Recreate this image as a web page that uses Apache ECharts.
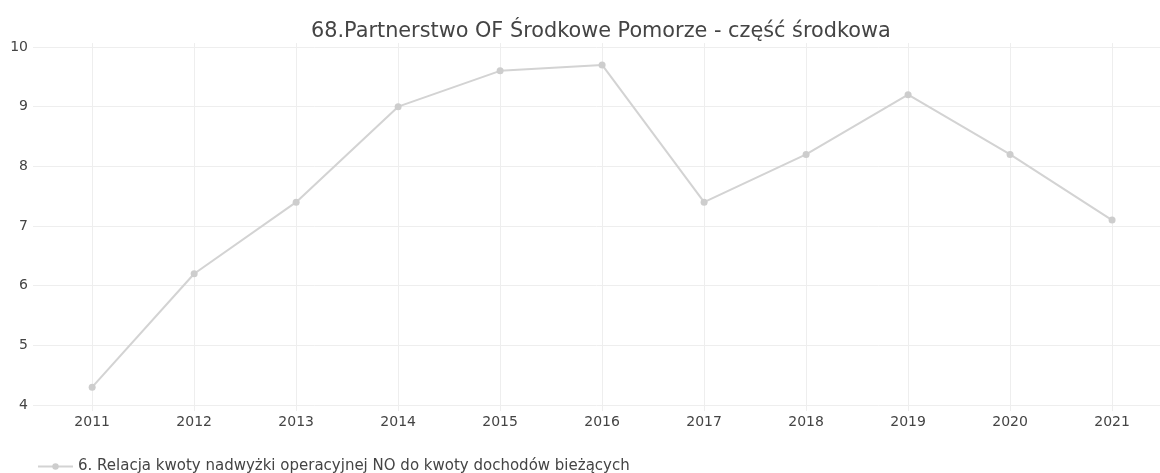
<!DOCTYPE html>
<html><head><meta charset="utf-8">
<script src="https://cdn.jsdelivr.net/npm/echarts@6/dist/echarts.min.js"></script>
<style>html,body{margin:0;padding:0;background:#fff}#c{width:1160px;height:473px}</style>
</head><body><div id="c"></div>
<script>
var titleText = "68.Partnerstwo OF Środkowe Pomorze - część środkowa";
var seriesName = "6. Relacja kwoty nadwyżki operacyjnej NO do kwoty dochodów bieżących";
var years = [2011, 2012, 2013, 2014, 2015, 2016, 2017, 2018, 2019, 2020, 2021];
var values = [4.3, 6.2, 7.4, 9.0, 9.6, 9.7, 7.4, 8.2, 9.2, 8.2, 7.1];
var yTicks = [4, 5, 6, 7, 8, 9, 10];

var font = "'DejaVu Sans', sans-serif";
var chart = echarts.init(document.getElementById('c'));
chart.setOption({
  animation: false,
  backgroundColor: '#fff',
  title: {
    text: titleText, left: 306, top: 16,
    textStyle: { fontFamily: font, fontSize: 20.8, fontWeight: 'normal', color: '#444' }
  },
  legend: {
    left: 32, top: 454, itemWidth: 35, itemHeight: 8, itemGap: 10,
    textStyle: { fontFamily: font, fontSize: 15, color: '#444' },
    data: [seriesName]
  },
  grid: { left: 33, right: 0, top: 43, bottom: 62, containLabel: false },
  xAxis: {
    type: 'value', min: 2010.42, max: 2021.47,
    axisLine: { show: false }, axisTick: { show: false, customValues: years },
    axisLabel: { customValues: years, formatter: function (v) { return String(v); },
      fontFamily: font, fontSize: 14, color: '#444', margin: 4 },
    splitLine: { show: true, lineStyle: { color: '#eeeeee', width: 1 } }
  },
  yAxis: {
    type: 'value', min: 3.9, max: 10.067,
    axisLine: { show: false }, axisTick: { show: false, customValues: yTicks },
    axisLabel: { customValues: yTicks, formatter: function (v) { return String(v); },
      fontFamily: font, fontSize: 14, color: '#444', margin: 5 },
    splitLine: { show: true, lineStyle: { color: '#eeeeee', width: 1 } }
  },
  series: [{
    name: seriesName, type: 'line',
    data: years.map(function (y, i) { return [y, values[i]]; }),
    symbol: 'circle', symbolSize: 7,
    lineStyle: { color: '#d3d3d3', width: 2 },
    itemStyle: { color: '#cdcdcd' }
  }]
});
</script></body></html>
